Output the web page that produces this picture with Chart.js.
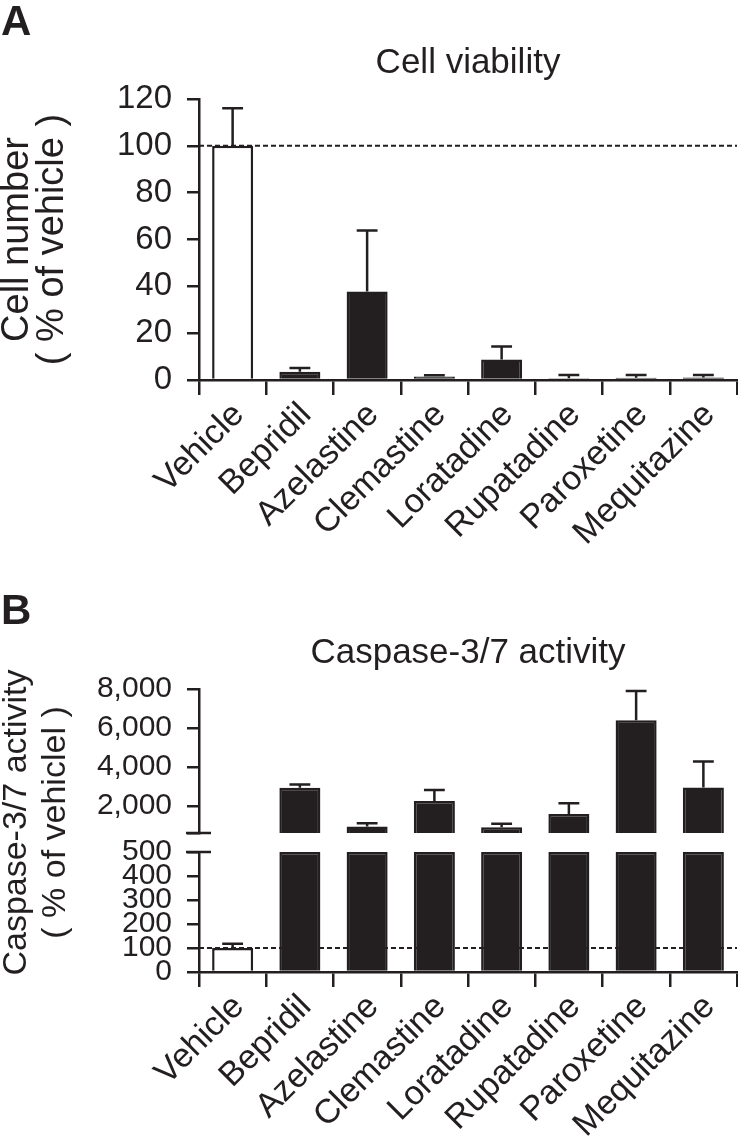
<!DOCTYPE html>
<html>
<head>
<meta charset="utf-8">
<script src="https://cdn.jsdelivr.net/npm/chart.js@4.4.1/dist/chart.umd.min.js"></script>
<style>
  html, body { margin: 0; padding: 0; background: #fff; }
  #wrap { position: relative; width: 738px; height: 1138px; }
  .panel { position: absolute; left: 0; width: 738px; }
  #boxA { top: 0; height: 560px; }
  #boxB { top: 560px; height: 578px; }
  .tag { position: absolute; left: 1px; font: bold 42px 'Liberation Sans', Arial, sans-serif; color: #231f20; line-height: 1; }
</style>
</head>
<body>
<div id="wrap">
  <div class="panel" id="boxA"><canvas id="viabilityChart"></canvas></div>
  <div class="panel" id="boxB"><canvas id="caspaseChart"></canvas></div>
  <div class="tag" style="top:0px">A</div>
  <div class="tag" style="top:589px">B</div>
</div>
<script>
const drugs = ['Vehicle', 'Bepridil', 'Azelastine', 'Clemastine', 'Loratadine', 'Rupatadine', 'Paroxetine', 'Mequitazine'];

// A: cell number, % of vehicle (mean, error)
const viability = [100, 3.5, 37.8, 1.5, 8.8, 0.7, 1.0, 1.1];
const viabilityErr = [16, 1.6, 26, 0.5, 5.5, 1.4, 1.1, 1.0];
const viabilityTicks = [0, 20, 40, 60, 80, 100, 120];

// B: caspase-3/7 activity, % of vehicle (mean, error)
const caspase = [100, 2920, 930, 2250, 900, 1575, 6400, 2940];
const caspaseErr = [18, 170, 170, 560, 180, 560, 1500, 1330];
const caspaseTicksLow = [0, 100, 200, 300, 400, 500];
const caspaseTicksHigh = [2000, 4000, 6000, 8000];
const breakAt = 600;

const ink = '#231f20';
const family = "'Liberation Sans', Arial, sans-serif";
Chart.defaults.font.family = family;
Chart.defaults.color = ink;

const barColors = drugs.map((d, i) => i === 0 ? '#ffffff' : ink);

function errorBars(values, errors, pickScale) {
    return {
        id: 'errorBars',
        afterDatasetsDraw(chart) {
            const ctx = chart.ctx;
            const x = chart.scales.x;
            const capHalf = x.width / drugs.length * 0.155;
            ctx.save();
            ctx.strokeStyle = ink;
            ctx.lineWidth = 2.5;
            values.forEach((v, i) => {
                const y = pickScale(chart, v);
                const px = x.getPixelForValue(i);
                const y0 = y.getPixelForValue(v);
                const y1 = y.getPixelForValue(v + errors[i]);
                ctx.beginPath();
                ctx.moveTo(px, y0);
                ctx.lineTo(px, y1);
                ctx.moveTo(px - capHalf, y1);
                ctx.lineTo(px + capHalf, y1);
                ctx.stroke();
            });
            ctx.restore();
        }
    };
}

function refLine(scaleId) {
    return {
        id: 'refLine',
        beforeDatasetsDraw(chart) {
            const ctx = chart.ctx;
            const a = chart.chartArea;
            const y = chart.scales[scaleId].getPixelForValue(100);
            ctx.save();
            ctx.strokeStyle = ink;
            ctx.lineWidth = 2;
            ctx.setLineDash([5, 3]);
            ctx.beginPath();
            ctx.moveTo(a.left, y);
            ctx.lineTo(a.right, y);
            ctx.stroke();
            ctx.restore();
        }
    };
}

const xAxis = (height) => ({
    offset: true,
    grid: { offset: true, drawOnChartArea: false, tickLength: 15, color: ink, lineWidth: 2.5 },
    border: { color: ink, width: 2.5 },
    ticks: { minRotation: 45, maxRotation: 45, autoSkip: false, padding: 0, labelOffset: 6, font: { size: 34 } },
    afterFit: (s) => { s.height = height; }
});

const yGrid = { drawOnChartArea: false, tickLength: 12, color: ink, lineWidth: 2.5 };

// ---- A ----
new Chart(document.getElementById('viabilityChart'), {
    type: 'bar',
    data: {
        labels: drugs,
        datasets: [{
            data: viability,
            backgroundColor: barColors,
            borderColor: ink,
            borderWidth: 2.5,
            categoryPercentage: 1,
            barPercentage: 0.61
        }]
    },
    options: {
        responsive: true,
        maintainAspectRatio: false,
        animation: false,
        layout: { padding: { left: 0, right: 1, top: 0, bottom: 0 } },
        plugins: {
            legend: { display: false },
            tooltip: { enabled: false },
            title: {
                display: true,
                fullSize: false,
                text: 'Cell viability',
                font: { size: 35, weight: 'normal', lineHeight: 1.2 },
                color: ink,
                padding: { top: 42, bottom: 15 }
            }
        },
        scales: {
            x: xAxis(180),
            y: {
                min: 0,
                max: 120,
                afterBuildTicks: (s) => { s.ticks = viabilityTicks.map(value => ({ value })); },
                ticks: { font: { size: 33 }, padding: 15, autoSkip: false },
                grid: yGrid,
                border: { color: ink, width: 2.5 },
                title: {
                    display: true,
                    text: ['Cell number', '( % of vehicle )'],
                    font: { size: 38, lineHeight: 0.93 },
                    padding: { top: 0, bottom: 0 },
                    color: ink
                },
                afterFit: (s) => { s.width = 199; }
            }
        }
    },
    plugins: [refLine('y'), errorBars(viability, viabilityErr, (c) => c.scales.y)]
});

// ---- B (broken y axis: two stacked scales) ----
const highData = caspase.map(v => v > breakAt ? [breakAt, v] : null);
const lowData = caspase.map(v => Math.min(v, caspaseTicksLow[caspaseTicksLow.length - 1]));

const breakMarks = {
    id: 'breakMarks',
    afterDraw(chart) {
        const ctx = chart.ctx;
        const hi = chart.scales.yHigh, lo = chart.scales.yLow;
        const ax = chart.chartArea.left;
        ctx.save();
        ctx.strokeStyle = ink;
        ctx.lineWidth = 2.5;
        ctx.beginPath();
        [hi.getPixelForValue(hi.min), lo.getPixelForValue(lo.max)].forEach(y => {
            ctx.moveTo(ax - 13, y);
            ctx.lineTo(ax + 12, y);
        });
        ctx.stroke();
        // y title spanning both segments
        const mid = (hi.top + lo.bottom) / 2 - 8;
        ctx.translate(17, mid);
        ctx.rotate(-Math.PI / 2);
        ctx.fillStyle = ink;
        ctx.font = '34px ' + family;
        ctx.textAlign = 'center';
        ctx.textBaseline = 'middle';
        ctx.fillText('Caspase-3/7 activity', 0, 0);
        ctx.fillText('( % of vehiclel )', 0, 39);
        ctx.restore();
    }
};

const yBase = {
    type: 'linear',
    position: 'left',
    stack: 'caspase',
    grid: yGrid,
    border: { color: ink, width: 2.5 },
    afterFit: (s) => { s.width = 199; }
};

new Chart(document.getElementById('caspaseChart'), {
    type: 'bar',
    data: {
        labels: drugs,
        datasets: [{
            data: highData,
            yAxisID: 'yHigh',
            grouped: false,
            backgroundColor: barColors,
            borderColor: ink,
            borderWidth: 2.5,
            categoryPercentage: 1,
            barPercentage: 0.61
        }, {
            data: lowData,
            yAxisID: 'yLow',
            grouped: false,
            backgroundColor: barColors,
            borderColor: ink,
            borderWidth: 2.5,
            categoryPercentage: 1,
            barPercentage: 0.61
        }]
    },
    options: {
        responsive: true,
        maintainAspectRatio: false,
        animation: false,
        layout: { padding: { left: 0, right: 1, top: 0, bottom: 0 } },
        plugins: {
            legend: { display: false },
            tooltip: { enabled: false },
            title: {
                display: true,
                fullSize: false,
                text: 'Caspase-3/7 activity',
                font: { size: 35, weight: 'normal', lineHeight: 1.2 },
                color: ink,
                padding: { top: 72, bottom: 15 }
            }
        },
        scales: {
            x: xAxis(166),
            yHigh: Object.assign({}, yBase, {
                weight: 3,
                stackWeight: 144,
                min: breakAt,
                max: 8000,
                afterBuildTicks: (s) => { s.ticks = [breakAt, ...caspaseTicksHigh].map(value => ({ value })); },
                ticks: {
                    font: { size: 30 }, padding: 15, autoSkip: false,
                    callback: (v) => v === breakAt ? '' : v.toLocaleString('en-US')
                }
            }),
            yGap: { type: 'linear', position: 'left', stack: 'caspase', weight: 2, stackWeight: 19, display: false },
            yLow: Object.assign({}, yBase, {
                weight: 1,
                stackWeight: 120,
                min: 0,
                max: 500,
                afterBuildTicks: (s) => { s.ticks = caspaseTicksLow.map(value => ({ value })); },
                ticks: { font: { size: 30 }, padding: 15, autoSkip: false }
            })
        }
    },
    plugins: [refLine('yLow'), breakMarks,
        errorBars(caspase, caspaseErr, (c, v) => v > breakAt ? c.scales.yHigh : c.scales.yLow)]
});
</script>
</body>
</html>
